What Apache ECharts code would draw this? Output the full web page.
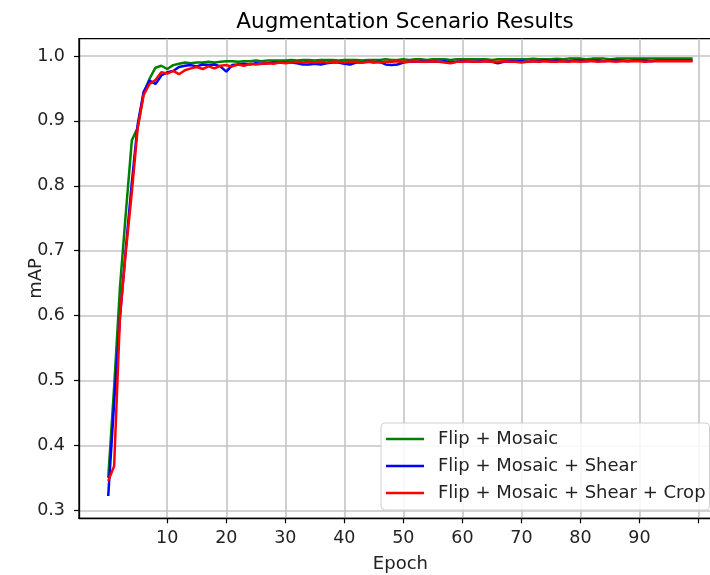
<!DOCTYPE html>
<html>
<head>
<meta charset="utf-8">
<script src="https://cdn.jsdelivr.net/npm/echarts@6/dist/echarts.min.js"></script>
<style>
  html, body { margin: 0; padding: 0; background: #fff; }
  #main { width: 710px; height: 575px; }
</style>
</head>
<body>
<div id="main"></div>
<script>
var seriesNames = ['Flip + Mosaic', 'Flip + Mosaic + Shear', 'Flip + Mosaic + Shear + Crop'];
var seriesColors = ['#008000', '#0000ff', '#ff0000'];

// mAP per epoch (0..99)
var flipMosaic = [
    0.350, 0.490, 0.645, 0.760, 0.870, 0.890, 0.942, 0.965, 0.982, 0.985,
    0.980, 0.986, 0.988, 0.990, 0.989, 0.990, 0.990, 0.991, 0.990, 0.991,
    0.992, 0.992, 0.991, 0.992, 0.992, 0.993, 0.992, 0.993, 0.993, 0.993,
    0.993, 0.994, 0.993, 0.994, 0.994, 0.993, 0.994, 0.994, 0.994, 0.993,
    0.994, 0.994, 0.994, 0.993, 0.994, 0.994, 0.994, 0.995, 0.994, 0.994,
    0.995, 0.994, 0.995, 0.995, 0.994, 0.995, 0.995, 0.995, 0.994, 0.995,
    0.995, 0.995, 0.995, 0.995, 0.995, 0.994, 0.995, 0.995, 0.995, 0.995,
    0.995, 0.995, 0.996, 0.995, 0.995, 0.995, 0.996, 0.995, 0.996, 0.996,
    0.996, 0.995, 0.996, 0.996, 0.996, 0.995, 0.996, 0.996, 0.996, 0.996,
    0.996, 0.996, 0.996, 0.996, 0.996, 0.996, 0.996, 0.996, 0.996, 0.996
];
var flipMosaicShear = [
    0.322, 0.465, 0.598, 0.705, 0.805, 0.895, 0.945, 0.962, 0.957, 0.970,
    0.975, 0.977, 0.983, 0.985, 0.986, 0.984, 0.987, 0.986, 0.987, 0.984,
    0.976, 0.986, 0.987, 0.988, 0.987, 0.989, 0.988, 0.989, 0.990, 0.990,
    0.990, 0.990, 0.989, 0.987, 0.987, 0.988, 0.987, 0.989, 0.990, 0.990,
    0.988, 0.987, 0.990, 0.990, 0.991, 0.990, 0.991, 0.987, 0.986, 0.987,
    0.990, 0.991, 0.991, 0.992, 0.991, 0.992, 0.991, 0.992, 0.990, 0.991,
    0.992, 0.992, 0.991, 0.992, 0.992, 0.991, 0.989, 0.991, 0.992, 0.992,
    0.992, 0.991, 0.992, 0.992, 0.993, 0.992, 0.993, 0.992, 0.992, 0.993,
    0.993, 0.992, 0.993, 0.993, 0.992, 0.993, 0.993, 0.993, 0.992, 0.993,
    0.993, 0.993, 0.992, 0.993, 0.993, 0.993, 0.993, 0.993, 0.993, 0.993
];
var flipMosaicShearCrop = [
    0.345, 0.368, 0.600, 0.700, 0.790, 0.890, 0.940, 0.957, 0.963, 0.975,
    0.973, 0.977, 0.972, 0.978, 0.981, 0.983, 0.980, 0.984, 0.981, 0.985,
    0.986, 0.984, 0.987, 0.985, 0.988, 0.987, 0.988, 0.989, 0.988, 0.990,
    0.989, 0.990, 0.991, 0.990, 0.991, 0.990, 0.991, 0.990, 0.991, 0.991,
    0.990, 0.991, 0.991, 0.990, 0.991, 0.991, 0.990, 0.991, 0.991, 0.992,
    0.991, 0.991, 0.992, 0.991, 0.991, 0.992, 0.991, 0.990, 0.989, 0.991,
    0.991, 0.992, 0.991, 0.991, 0.992, 0.991, 0.991, 0.992, 0.991, 0.991,
    0.990, 0.991, 0.992, 0.991, 0.992, 0.991, 0.991, 0.992, 0.991, 0.992,
    0.991, 0.992, 0.992, 0.991, 0.992, 0.992, 0.991, 0.992, 0.992, 0.992,
    0.992, 0.991, 0.992, 0.992, 0.992, 0.992, 0.992, 0.992, 0.992, 0.992
];

var xTicks = [10, 20, 30, 40, 50, 60, 70, 80, 90, 100];
var xLabels = [10, 20, 30, 40, 50, 60, 70, 80, 90];
var yTicks = [0.3, 0.4, 0.5, 0.6, 0.7, 0.8, 0.9, 1.0];

var FONT = 'DejaVu Sans';

function toPoints(values) {
    return values.map(function (v, i) { return [i, v]; });
}

var allValues = [flipMosaic, flipMosaicShear, flipMosaicShearCrop];

var chart = echarts.init(document.getElementById('main'), null, { renderer: 'canvas' });

var option = {
    backgroundColor: '#ffffff',
    animation: false,
    textStyle: { fontFamily: FONT },
    title: {
        text: 'Augmentation Scenario Results',
        left: 400,
        textAlign: 'center',
        top: 6,
        textStyle: { fontFamily: FONT, fontSize: 21.5, fontWeight: 'normal', color: '#000' }
    },
    grid: {
        left: 79,
        top: 38.7,
        right: -11.8,
        bottom: 56.7,
        outerBoundsMode: 'none',
        containLabel: false,
        show: true,
        borderColor: '#000',
        borderWidth: 1.3,
        backgroundColor: 'transparent'
    },
    legend: {
        orient: 'vertical',
        left: 381,
        top: 423,
        data: seriesNames,
        icon: 'rect',
        itemWidth: 38,
        itemHeight: 2.5,
        itemGap: 9,
        padding: [7, 4, 8, 5],
        backgroundColor: 'rgba(255,255,255,0.85)',
        borderColor: '#d0d0d0',
        borderWidth: 1,
        borderRadius: 4,
        textStyle: { fontFamily: FONT, fontSize: 18, color: '#222', padding: [0, 0, 0, 9] }
    },
    xAxis: {
        type: 'value',
        min: -4.95,
        max: 103.95,
        name: 'Epoch',
        nameLocation: 'middle',
        nameGap: 37,
        nameMoveOverlap: false,
        nameTextStyle: { fontFamily: FONT, fontSize: 18, color: '#222' },
        axisLine: { show: true, onZero: false, lineStyle: { color: '#000', width: 1.3 } },
        axisTick: { show: true, length: 5, customValues: xTicks, lineStyle: { color: '#000', width: 1.2 } },
        axisLabel: { customValues: xLabels, margin: 11, fontFamily: FONT, fontSize: 17.5, color: '#222' },
        splitLine: { show: true, lineStyle: { color: '#c4c4c4', width: 1.6 } }
    },
    yAxis: {
        type: 'value',
        min: 0.2876,
        max: 1.0267,
        name: 'mAP',
        nameLocation: 'middle',
        nameGap: 34,
        nameRotate: 90,
        nameMoveOverlap: false,
        nameTextStyle: { fontFamily: FONT, fontSize: 18, color: '#222' },
        axisLine: { show: true, onZero: false, lineStyle: { color: '#000', width: 1.3 } },
        axisTick: { show: true, length: 5, customValues: yTicks, lineStyle: { color: '#000', width: 1.2 } },
        axisLabel: {
            customValues: yTicks,
            margin: 14,
            fontFamily: FONT,
            fontSize: 17.5,
            color: '#222',
            formatter: function (v) { return v.toFixed(1); }
        },
        splitLine: { show: true, lineStyle: { color: '#c4c4c4', width: 1.6 } }
    },
    series: seriesNames.map(function (name, k) {
        return {
            name: name,
            type: 'line',
            data: toPoints(allValues[k]),
            showSymbol: false,
            symbol: 'none',
            smooth: false,
            lineStyle: { color: seriesColors[k], width: 2.5 },
            itemStyle: { color: seriesColors[k] },
            z: 2 + k
        };
    })
};

chart.setOption(option);
</script>
</body>
</html>
